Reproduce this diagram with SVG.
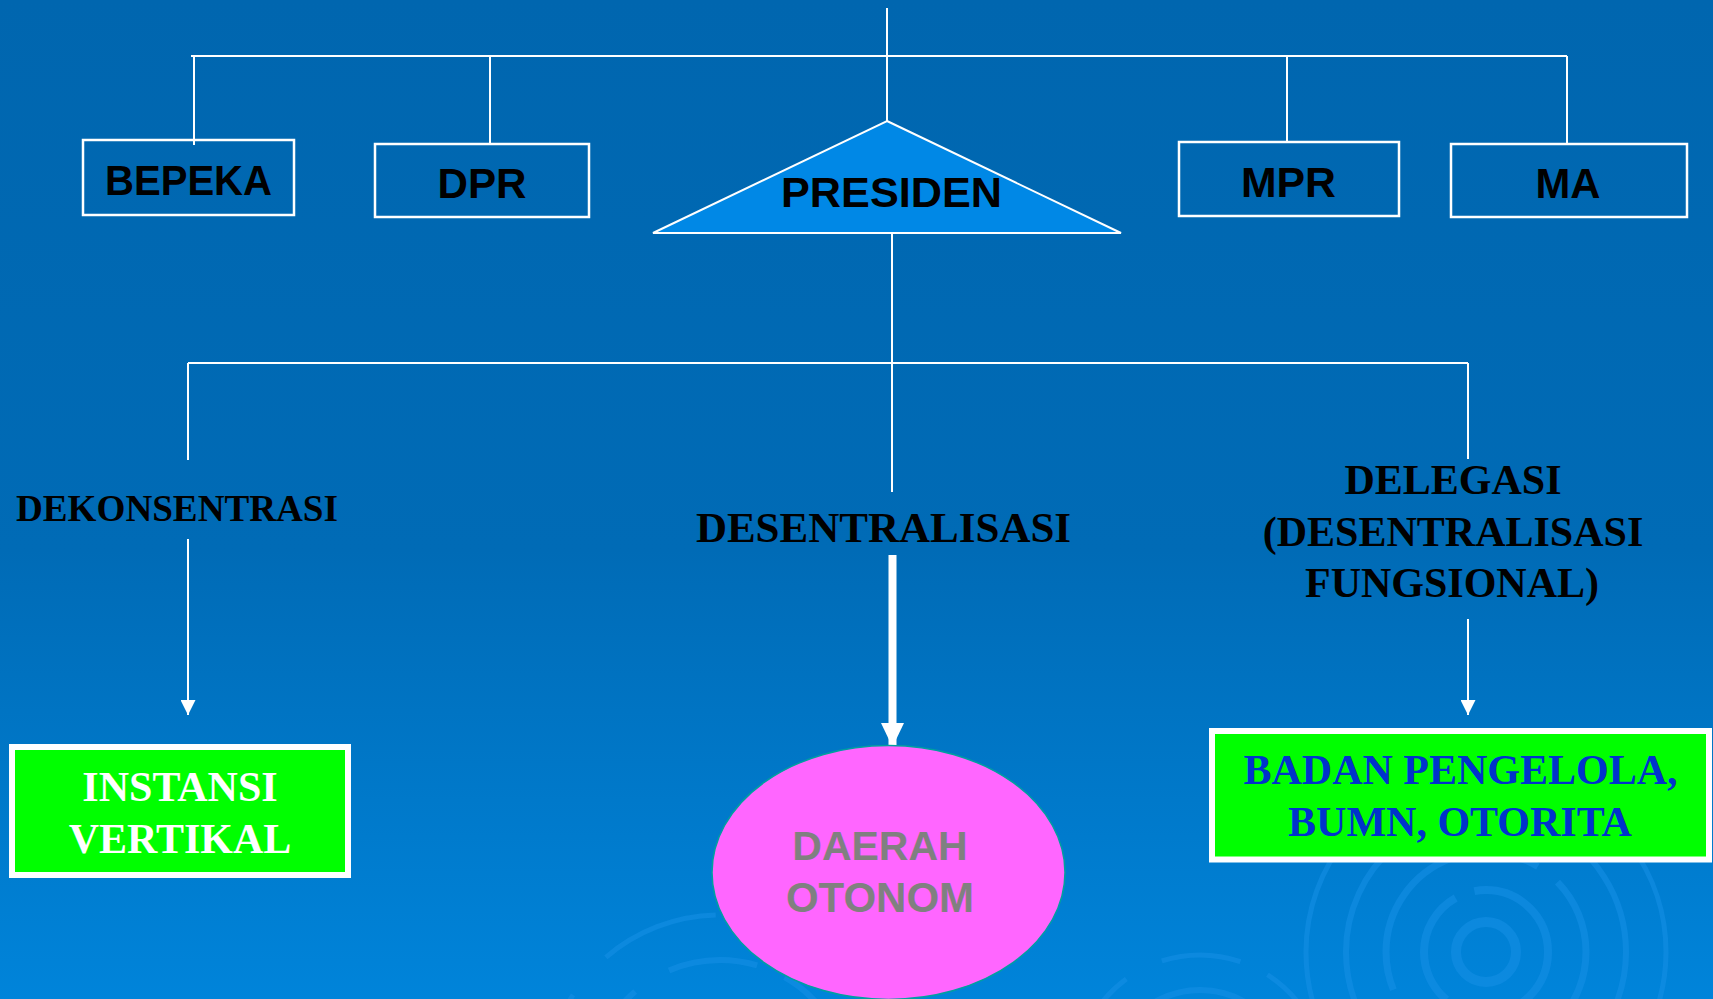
<svg xmlns="http://www.w3.org/2000/svg" width="1713" height="999" viewBox="0 0 1713 999">
<defs>
<linearGradient id="bg" x1="0" y1="0" x2="0" y2="1">
<stop offset="0" stop-color="#0066AF"/>
<stop offset="0.55" stop-color="#006BB6"/>
<stop offset="1" stop-color="#0084DA"/>
</linearGradient>
<marker id="ah" viewBox="0 0 10 10" refX="10" refY="5" markerWidth="15" markerHeight="15" markerUnits="userSpaceOnUse" orient="auto">
<path d="M0,0 L10,5 L0,10 Z" fill="#FFFFFF"/>
</marker>
<marker id="ahBig" viewBox="0 0 10 10" refX="10" refY="5" markerWidth="24" markerHeight="23" markerUnits="userSpaceOnUse" orient="auto" preserveAspectRatio="none">
<path d="M0,0 L10,5 L0,10 Z" fill="#FFFFFF"/>
</marker>
</defs>
<style>
.line{stroke:#FFFFFF;stroke-width:2;fill:none}
.box{fill:none;stroke:#FFFFFF;stroke-width:2.5}
.lbl{font-family:"Liberation Sans",Arial,sans-serif;font-weight:bold;fill:#000000;text-anchor:middle}
.ser{font-family:"Liberation Serif","Times New Roman",serif;font-weight:bold;text-anchor:middle}
.ring{fill:none;stroke:#1690E6;stroke-opacity:0.55}
</style>
<rect x="0" y="0" width="1713" height="999" fill="url(#bg)"/>
<g id="background-rings">
<circle class="ring" cx="1486" cy="952" r="30" stroke-width="10"/>
<circle class="ring" cx="1486" cy="952" r="62" stroke-width="8" stroke-dasharray="120 20"/>
<circle class="ring" cx="1486" cy="952" r="100" stroke-width="7" stroke-dasharray="160 30 60 25"/>
<circle class="ring" cx="1486" cy="952" r="140" stroke-width="6" stroke-dasharray="200 40 90 30"/>
<circle class="ring" cx="1486" cy="952" r="180" stroke-width="5" stroke-dasharray="240 50 120 40"/>
<circle class="ring" cx="720" cy="1090" r="130" stroke-width="6" stroke-dasharray="180 40 90 30"/>
<circle class="ring" cx="720" cy="1090" r="175" stroke-width="5" stroke-dasharray="220 50 120 40"/>
<circle class="ring" cx="1200" cy="1080" r="90" stroke-width="6" stroke-dasharray="140 30"/>
<circle class="ring" cx="1200" cy="1080" r="125" stroke-width="5" stroke-dasharray="180 40 80 30"/>
</g>
<g id="connectors">
<line class="line" x1="887" y1="8" x2="887" y2="121"/>
<line class="line" x1="191" y1="56" x2="1567" y2="56"/>
<line class="line" x1="194" y1="56" x2="194" y2="145"/>
<line class="line" x1="490" y1="56" x2="490" y2="144"/>
<line class="line" x1="1287" y1="56" x2="1287" y2="142"/>
<line class="line" x1="1567" y1="56" x2="1567" y2="144"/>
<line class="line" x1="892" y1="234" x2="892" y2="492"/>
<line class="line" x1="188" y1="363" x2="1468" y2="363"/>
<line class="line" x1="188" y1="363" x2="188" y2="460"/>
<line class="line" x1="1468" y1="363" x2="1468" y2="459"/>
<line class="line" x1="188" y1="539" x2="188" y2="715" marker-end="url(#ah)"/>
<line class="line" x1="1468" y1="619" x2="1468" y2="715" marker-end="url(#ah)"/>
<line x1="892.5" y1="555" x2="892.5" y2="747" stroke="#FFFFFF" stroke-width="8" marker-end="url(#ahBig)"/>
</g>
<g id="node-bepeka">
<rect class="box" x="83" y="140" width="211" height="75"/>
<text class="lbl" x="188.5" y="195" font-size="42" textLength="167" lengthAdjust="spacingAndGlyphs">BEPEKA</text>
</g>
<g id="node-dpr">
<rect class="box" x="375" y="144" width="214" height="73"/>
<text class="lbl" x="482" y="198" font-size="42" textLength="89" lengthAdjust="spacingAndGlyphs">DPR</text>
</g>
<g id="node-presiden">
<polygon points="887,121 1121,233 653,233" fill="#0088E6" stroke="#FFFFFF" stroke-width="2"/>
<text class="lbl" x="891.5" y="207" font-size="43" textLength="221" lengthAdjust="spacingAndGlyphs">PRESIDEN</text>
</g>
<g id="node-mpr">
<rect class="box" x="1179" y="142" width="220" height="74"/>
<text class="lbl" x="1288.5" y="197" font-size="43" textLength="95" lengthAdjust="spacingAndGlyphs">MPR</text>
</g>
<g id="node-ma">
<rect class="box" x="1451" y="144" width="236" height="73"/>
<text class="lbl" x="1568" y="198" font-size="43" textLength="65" lengthAdjust="spacingAndGlyphs">MA</text>
</g>
<g id="label-dekonsentrasi">
<text class="ser" x="177" y="521" font-size="37" fill="#000000" textLength="322" lengthAdjust="spacingAndGlyphs">DEKONSENTRASI</text>
</g>
<g id="label-desentralisasi">
<text class="ser" x="883.5" y="542" font-size="43" fill="#000000">DESENTRALISASI</text>
</g>
<g id="label-delegasi">
<text class="ser" x="1453" y="494" font-size="42" fill="#000000">DELEGASI</text>
<text class="ser" x="1453" y="545.5" font-size="42" fill="#000000">(DESENTRALISASI</text>
<text class="ser" x="1452" y="596.5" font-size="42" fill="#000000">FUNGSIONAL)</text>
</g>
<g id="node-instansi">
<rect x="12" y="747" width="336" height="128" fill="#00FF00" stroke="#FFFFFF" stroke-width="6"/>
<text class="ser" x="180" y="801" font-size="42" fill="#FFFFFF">INSTANSI</text>
<text class="ser" x="180" y="853" font-size="42" fill="#FFFFFF">VERTIKAL</text>
</g>
<g id="node-daerah">
<ellipse cx="888.5" cy="872.5" rx="176.5" ry="127" fill="#FF66FF" stroke="#00A0A0" stroke-width="1.5"/>
<text class="lbl" x="880" y="860" font-size="41" style="fill:#808080">DAERAH</text>
<text class="lbl" x="880" y="912" font-size="42" style="fill:#808080">OTONOM</text>
</g>
<g id="node-badan">
<rect x="1212" y="731" width="497" height="128.5" fill="#00FF00" stroke="#FFFFFF" stroke-width="6"/>
<text class="ser" x="1460.5" y="784" font-size="42" fill="#0033CC">BADAN PENGELOLA,</text>
<text class="ser" x="1460" y="835.5" font-size="42" fill="#0033CC">BUMN, OTORITA</text>
</g>
</svg>
